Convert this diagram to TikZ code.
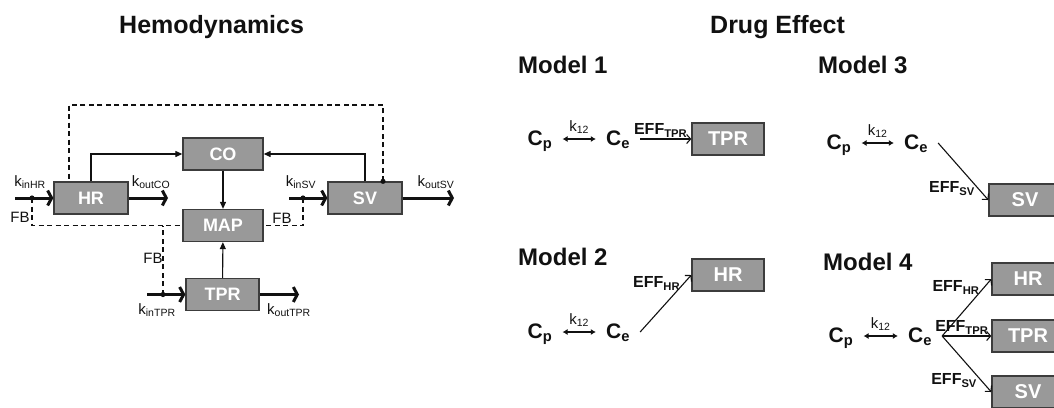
\documentclass[tikz,border=0pt]{standalone}
\usepackage{fontspec}
\setmainfont{Liberation Sans}
\usetikzlibrary{arrows.meta,calc,positioning}
\definecolor{PkInk}{HTML}{111111}
\definecolor{PkBox}{HTML}{999999}
\definecolor{PkEdge}{HTML}{3C3C3C}
\tikzset{
  every node/.style={text=PkInk, inner sep=0pt},
  state/.style={draw=PkEdge, line width=1.3pt, fill=PkBox, text=white,
    font=\fontsize{18}{18}\selectfont\bfseries, minimum width=74pt, minimum height=32pt},
  target/.style={state, minimum width=72pt, font=\fontsize{20}{20}\selectfont\bfseries},
  heading/.style={font=\fontsize{25}{28}\selectfont\bfseries},
  model/.style={font=\fontsize{24}{28}\selectfont\bfseries},
  rate/.style={font=\fontsize{15}{18}\selectfont},
  conc/.style={font=\fontsize{21}{24}\selectfont\bfseries, text height=16pt, text depth=4pt},
  efflabel/.style={font=\fontsize{16}{18}\selectfont\bfseries},
  flow/.style={-{Triangle[length=7pt,width=6pt]}, draw=PkInk, line width=1.1pt},
  feed/.style={-{Straight Barb[length=4pt,width=15pt]}, draw=PkInk, line width=3pt},
  feedback/.style={draw=PkInk, line width=1.3pt, dash pattern=on 5pt off 3.5pt},
  exchange/.style={{Latex[length=5pt,width=6pt]}-{Latex[length=5pt,width=6pt]}, draw=PkInk,
    line width=1.2pt, shorten <=10pt, shorten >=10pt},
  effect/.style={-{Straight Barb[length=4pt,width=9pt]}, draw=PkInk, line width=1.1pt},
  junction/.style={fill=PkInk},
}

\begin{document}
\begin{tikzpicture}[x=1pt,y=-1pt]
  % picture frame in pixels of the original, y pointing down
  \useasboundingbox (0,0) rectangle (1054,407);
  \clip (0,0) rectangle (1054,407);
  \node[heading, anchor=base west] (hemo) at (119,33) {Hemodynamics};
  \node[heading, anchor=base west] (drug) at (710,33) {Drug Effect};

  % Hemodynamics: compartments
  \node[state, minimum width=80pt] (co) at (223,154) {CO};
  \node[state] (hr) at (91,198) {HR};
  \node[state] (sv) at (365,198) {SV};
  \node[state, minimum width=80pt] (map) at (223,225.5) {MAP};
  \node[state, minimum width=73pt] (tpr) at (222.5,294.5) {TPR};
  \draw[flow] (hr.north) |- (co.west);
  \draw[flow] (sv.north) |- (co.east);
  \draw[flow] (co) -- (map);
  \draw[flow] (tpr) -- (map);

  % zero-order inputs, first-order outputs
  \coordinate (inHR) at (15,198);
  \coordinate (outHR) at (168,198);
  \coordinate (inSV) at (289,198);
  \coordinate (outSV) at (454,198);
  \coordinate (inTPR) at (147,294.5);
  \coordinate (outTPR) at (299,294.5);
  \draw[feed] (inHR) -- (hr);
  \draw[feed] (hr) -- (outHR);
  \draw[feed] (inSV) -- (sv);
  \draw[feed] (sv) -- (outSV);
  \draw[feed] (inTPR) -- (tpr);
  \draw[feed] (tpr) -- (outTPR);
  \node[rate] (kinHR) at (30,182) {k\textsubscript{inHR}};
  \node[rate] (koutCO) at (151,182) {k\textsubscript{outCO}};
  \node[rate] (kinSV) at (301,182) {k\textsubscript{inSV}};
  \node[rate] (koutSV) at (436,182) {k\textsubscript{outSV}};
  \node[rate] (kinTPR) at (157,310) {k\textsubscript{inTPR}};
  \node[rate] (koutTPR) at (289,310) {k\textsubscript{outTPR}};

  % feedback lines
  \coordinate (fbHR) at (32,198);
  \coordinate (fbSV) at (303,198);
  \coordinate (fbTPR) at (163,294.5);
  \coordinate (fbTop) at ($(sv.north)+(18,0)$);
  \coordinate (loop) at (69,105);
  \draw[feedback] (fbHR) |- (map.west);
  \draw[feedback] (fbTPR) -- (fbTPR |- map.west);
  \draw[feedback] (fbSV) |- (map.east);
  \draw[feedback] (fbTop) |- (loop) -- (loop |- hr.north);
  \foreach \c in {fbHR,fbSV,fbTPR,fbTop}
    \fill[junction] (\c) circle (2.6pt);
  \node[rate] (fbA) at (20,217) {FB};
  \node[rate] (fbB) at (153,258) {FB};
  \node[rate] (fbC) at (282,218) {FB};

  % Model 1
  \node[model, anchor=base west] (m1) at (518,73) {Model 1};
  \node[conc] (cp1) at (540,139) {C\textsubscript{p}};
  \node[conc] (ce1) at (618,139) {C\textsubscript{e}};
  \node[target] (tpr1) at (728,139) {TPR};
  \draw[exchange] (cp1) -- node[rate, above=5pt] (k1) {k\textsubscript{12}} (ce1);
  \draw[effect] ([xshift=10pt]ce1.east) -- node[efflabel, above=1pt, pos=0.4] (e1) {EFF\textsubscript{TPR}} (tpr1);

  % Model 3
  \node[model, anchor=base west] (m3) at (818,73) {Model 3};
  \node[conc] (cp3) at (839,143) {C\textsubscript{p}};
  \node[conc] (ce3) at (916,143) {C\textsubscript{e}};
  \node[target] (sv3) at (1025,200) {SV};
  \draw[exchange] (cp3) -- node[rate, above=5pt] (k3) {k\textsubscript{12}} (ce3);
  \draw[effect] ([xshift=10pt]ce3.east) -- node[efflabel, left=3pt, pos=0.8] (e3) {EFF\textsubscript{SV}} (sv3.west);

  % Model 2
  \node[model, anchor=base west] (m2) at (518,265) {Model 2};
  \node[conc] (cp2) at (540,332) {C\textsubscript{p}};
  \node[conc] (ce2) at (618,332) {C\textsubscript{e}};
  \node[target] (hr2) at (728,275) {HR};
  \draw[exchange] (cp2) -- node[rate, above=5pt] (k2) {k\textsubscript{12}} (ce2);
  \draw[effect] ([xshift=10pt]ce2.east) -- node[efflabel, left=3pt, pos=0.85] (e2) {EFF\textsubscript{HR}} (hr2.west);

  % Model 4
  \node[model, anchor=base west] (m4) at (823,270) {Model 4};
  \node[conc] (cp4) at (841,336) {C\textsubscript{p}};
  \node[conc] (ce4) at (920,336) {C\textsubscript{e}};
  \node[target] (hr4) at (1028,279) {HR};
  \node[target] (tpr4) at (1028,336) {TPR};
  \node[target] (sv4) at (1028,392) {SV};
  \coordinate (fan4) at ($(ce4.east)+(10,0)$);
  \draw[exchange] (cp4) -- node[rate, above=5pt] (k4) {k\textsubscript{12}} (ce4);
  \draw[effect] (fan4) -- node[efflabel, left=4pt, pos=0.85] (e4a) {EFF\textsubscript{HR}} (hr4.west);
  \draw[effect] (fan4) -- node[efflabel, above=1pt, pos=0.4] (e4b) {EFF\textsubscript{TPR}} (tpr4.west);
  \draw[effect] (fan4) -- node[efflabel, left=4pt, pos=0.8] (e4c) {EFF\textsubscript{SV}} (sv4.west);
\end{tikzpicture}
\end{document}
